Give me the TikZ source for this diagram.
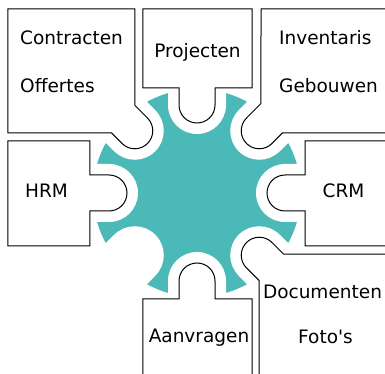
\documentclass[tikz,border=0pt]{standalone}
\usepackage{fontspec}
\setmainfont{DejaVu Sans}
\usetikzlibrary{positioning}

\definecolor{hubteal}{RGB}{74,185,184}

\tikzset{
	piece/.style={draw=black, fill=white, line width=1pt},
	notch/.style={fill=white},
	module/.style={font=\fontsize{18.5}{22}\selectfont, inner sep=0pt},
}

% tab of a piece that lies in direction #1, stem starts at #2 and ends at #3
\newcommand{\hubtab}[3]{-- ([rotate=#1]#2,-18) -- ([rotate=#1]88,-18) arc[start angle=#1-90, end angle=#1-270, radius=18pt] -- ([rotate=#1]88,18) -- ([rotate=#1]#3,18)}

\begin{document}
\begin{tikzpicture}
	[x=1pt, y=1pt]
	\clip (-197,-181) rectangle (188,193);

	% hub
	\fill[hubteal] (0,0) circle[radius=104pt];
	\foreach \a in {0,45,...,315}
		\fill[notch, rotate=\a] (88,29) -- (140,29) -- (140,-29) -- (88,-29) arc[start angle=-90, end angle=-270, radius=29pt] -- cycle;

	% pieces
	\draw[piece] (-189,184) -- (-62,184) \hubtab{135}{105.7}{102.85} -- (-189,60) -- cycle;
	\draw[piece] (-54,184) -- (55,184) -- (55,105) \hubtab{90}{105}{105} -- (-54,105) -- cycle;
	\draw[piece] (64,184) -- (200,184) -- (200,60) \hubtab{45}{102.85}{108.5} -- cycle;
	\draw[piece] (-189,-53) -- (-189,52) -- (-107,52) \hubtab{180}{107}{107} -- (-107,-53) -- cycle;
	\draw[piece] (108,52) -- (200,52) -- (200,-53) -- (108,-53) \hubtab{0}{108}{108} -- cycle;
	\draw[piece] (-54,-106) \hubtab{270}{106}{106} -- (55,-106) -- (55,-200) -- (-54,-200) -- cycle;
	\draw[piece] (200,-61) -- (200,-200) -- (62,-200) \hubtab{315}{105.7}{104.3} -- cycle;

	% labels
	\node[module, anchor=base west] (contracten) at (-177,148) {Contracten};
	\node[module, below=47.7pt of contracten.base west, anchor=base west] (offertes) {Offertes};
	\node[module, anchor=base] (projecten) at (0.5,135) {Projecten};
	\node[module, anchor=base west] (inventaris) at (82,148) {Inventaris};
	\node[module, below=47.7pt of inventaris.base west, anchor=base west] (gebouwen) {Gebouwen};
	\node[module, anchor=base] (hrm) at (-150.5,-5) {HRM};
	\node[module, anchor=base] (crm) at (146.5,-5) {CRM};
	\node[module, anchor=base] (aanvragen) at (2,-149) {Aanvragen};
	\node[module, anchor=base] (documenten) at (125.5,-106) {Documenten};
	\node[module, below=44pt of documenten.base, anchor=base, xshift=3pt] (fotos) {Foto\textquotesingle s};
\end{tikzpicture}
\end{document}
